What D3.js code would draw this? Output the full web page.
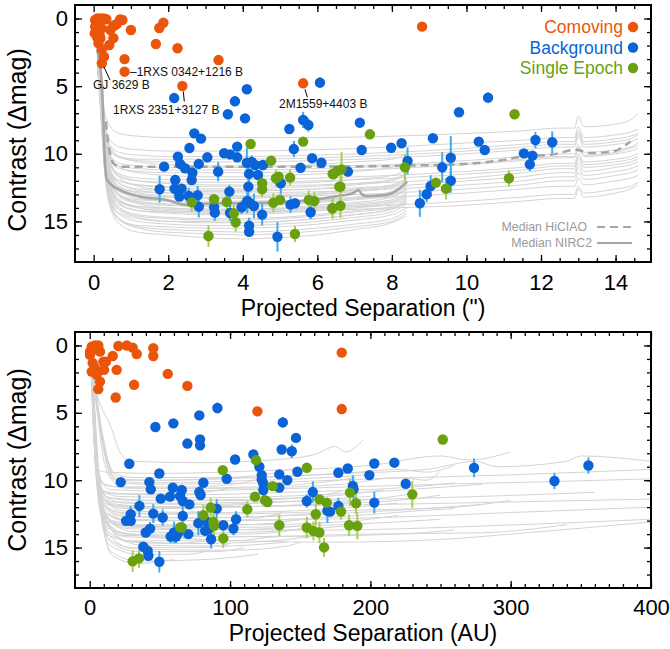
<!DOCTYPE html>
<html>
<head>
<meta charset="utf-8" />
<title>Contrast vs projected separation</title>
<script src="https://d3js.org/d3.v7.min.js"></script>
<style>
  body { margin: 0; background: #fff; }
  svg { display: block; font-family: Arial, "Liberation Sans", sans-serif; }
</style>
</head>
<body>
<svg id="chart" width="670" height="649"></svg>
<script>
// ---- top panel: separation in arcsec, contrast in mag ----
// [sep, dmag]
var topComoving = [[0.04,0.1],[0.10,0.0],[0.18,0.0],[0.27,0.0],[0.34,0.05],[0.07,0.36],[0.13,0.4],[0.04,0.6],
  [0.09,0.73],[0.22,0.73],[0.03,1.1],[0.09,1.17],[0.16,1.22],[0.10,1.42],[0.18,1.47],[0.13,1.84],[0.22,2.28],
  [0.28,2.82],[0.22,3.31],[0.53,0.55],[0.62,0.41],[0.71,0.06],[0.45,0.85],[0.58,0.48],[0.77,0.11],[0.53,1.45],
  [0.42,1.96],[1.0,0.85],[1.76,0.7],[1.87,0.31],[1.67,1.88],[2.25,2.2],[0.83,3.0],[0.83,3.93],[3.35,3.07],
  [2.38,4.99],[5.62,4.79],[8.81,0.6]];
// [sep, dmag, error]
var topBackground = [[2.16,5.88,0],[4.11,5.23,0],[3.79,6.12,0],[3.60,7.08,0],[4.06,7.38,0.3],[6.07,4.74,0.4],
  [5.62,7.5,0.6],[5.25,8.17,0],[5.76,7.87,0.5],[2.70,8.49,0],[2.88,8.88,0],[2.57,9.57,0],[3.85,9.47,0],
  [3.50,9.96,0],[3.66,10.04,0],[3.85,10.26,0],[3.05,10.26,0],[2.26,10.21,0],[2.32,10.75,0],[1.89,10.95,0],
  [2.45,11.07,0],[2.82,10.75,0],[3.34,11.32,0.7],[2.65,11.4,0],[2.63,11.94,0],[2.19,11.94,0.4],[1.77,12.62,1.0],
  [2.17,12.58,0.5],[2.36,12.58,0],[2.30,13.17,0],[2.55,13.12,0.6],[2.79,13.07,0.7],[2.82,13.91,0.8],
  [3.23,13.95,0.6],[3.25,14.35,0.6],[4.11,10.66,1.1],[4.24,10.61,0.5],[4.33,10.83,0],[4.54,10.83,0],
  [4.17,11.49,0.7],[4.41,11.57,0],[4.15,12.43,0.9],[4.12,13.49,0.9],[4.19,13.66,0],[3.97,13.95,0.5],
  [4.30,13.86,0.9],[4.52,14.5,0.8],[4.17,15.31,0.6],[4.17,15.76,0],[4.93,16.13,1.1],[5.02,12.18,0.8],
  [5.28,13.76,0.6],[5.40,13.66,0],[5.37,9.65,0.6],[5.55,11.03,0],[5.86,10.33,0],[6.11,10.66,0],
  [5.82,14.32,0.5],[7.14,7.7,0],[7.19,9.72,0],[7.98,9.55,0],[8.26,9.22,0],[8.42,10.53,1.0],[6.82,11.32,0],
  [9.10,8.85,0],[9.80,6.93,0],[10.58,5.85,0.4],[10.33,9.1,0],[10.49,9.72,0],[8.75,13.66,1.0],[8.93,12.99,0.6],
  [9.04,12.38,0.8],[9.35,11.0,1.1],[9.58,10.29,1.6],[9.58,11.99,0.9],[11.54,9.97,0],[11.77,10.14,0],
  [11.70,10.78,0.5],[11.85,8.98,0.6],[12.30,9.15,0.8],[3.64,12.8,0.5],[3.66,14.38,0.6]];
var topSingle = [[4.21,9.28,0],[4.76,10.51,0],[4.89,11.81,0.6],[4.96,11.69,0],[5.27,11.76,0.6],[4.52,12.18,0],
  [4.52,12.62,0.6],[2.63,13.59,0.7],[3.23,13.36,0],[3.57,13.56,0.6],[3.76,14.4,0.6],[3.81,15.06,0.7],
  [3.08,16.08,0.8],[4.82,13.62,0.7],[5.0,13.41,0],[5.40,15.93,0.6],[5.62,9.1,0],[5.77,13.41,0.7],
  [5.92,13.49,0.7],[6.41,11.49,0],[6.40,14.03,0.6],[6.59,12.43,0],[7.41,8.56,0],[6.43,11.52,0],[6.53,11.27,0],
  [6.65,11.15,1.3],[6.62,12.43,0.8],[6.41,14.03,0.8],[6.62,13.84,0.9],[8.35,11.0,1.0],[9.18,12.13,0],
  [9.45,12.58,0.8],[11.14,11.81,0.6],[11.29,7.08,0]];

// contrast curves, top panel (dmag read at the separations below)
var nirc2Sep = [0.1, 0.2, 0.3, 0.45, 0.7, 1.2, 2, 3, 4, 5, 6, 7, 8, 8.4];
var nirc2Curves = [
  [2.0, 5.0, 8.0, 9.5, 10.2, 10.6, 10.8, 10.9, 10.9, 10.9, 10.8, 10.6, 10.4, 10.0],
  [1.5, 4.5, 8.5, 10.2, 11.0, 11.4, 11.6, 11.7, 11.7, 11.6, 11.5, 11.3, 11.0, 10.6],
  [2.5, 5.5, 9.0, 10.8, 11.6, 12.0, 12.2, 12.3, 12.3, 12.2, 12.1, 11.9, 11.6, 11.2],
  [1.0, 4.0, 8.0, 10.5, 11.8, 12.4, 12.7, 12.8, 12.8, 12.7, 12.6, 12.3, 12.0, 11.5],
  [3.0, 6.0, 9.5, 11.5, 12.5, 13.0, 13.2, 13.3, 13.3, 13.2, 13.0, 12.8, 12.5, 12.0],
  [2.0, 5.5, 9.2, 11.6, 12.8, 13.3, 13.5, 13.6, 13.6, 13.5, 13.4, 13.2, 12.8, 12.3],
  [1.5, 5.0, 9.0, 11.8, 13.0, 13.6, 13.8, 13.9, 13.9, 13.8, 13.6, 13.4, 13.1, 12.6],
  [2.5, 6.0, 10.0, 12.3, 13.4, 13.9, 14.1, 14.2, 14.2, 14.1, 13.9, 13.7, 13.4, 12.9],
  [3.0, 6.5, 10.3, 12.6, 13.7, 14.2, 14.4, 14.5, 14.5, 14.4, 14.2, 14.0, 13.7, 13.2],
  [2.0, 6.0, 10.5, 13.0, 14.1, 14.6, 14.8, 14.9, 14.9, 14.8, 14.6, 14.3, 14.0, 13.4],
  [3.5, 7.0, 11.0, 13.4, 14.5, 15.0, 15.2, 15.3, 15.3, 15.2, 15.0, 14.7, 14.3, 13.7],
  [2.5, 6.5, 10.8, 13.5, 14.8, 15.4, 15.6, 15.7, 15.8, 15.7, 15.5, 15.2, 14.8, 14.2],
  [3.0, 7.5, 11.5, 14.0, 15.2, 15.8, 16.0, 16.2, 16.3, 16.2, 16.0, 15.6, 15.1, 14.6],
  [1.8, 5.2, 8.8, 11.2, 12.2, 12.7, 12.9, 13.0, 13.1, 13.0, 12.9, 12.6, 12.3, 11.8],
  [2.2, 5.8, 9.6, 12.0, 13.2, 13.7, 14.0, 14.1, 14.1, 14.0, 13.8, 13.6, 13.2, 12.7],
  [2.8, 6.8, 10.6, 12.9, 14.0, 14.5, 14.7, 14.8, 14.8, 14.7, 14.5, 14.2, 13.9, 13.3],
  [2.2, 5.6, 9.4, 11.3, 12.0, 12.3, 12.5, 12.6, 12.6, 12.5, 12.4, 12.2, 11.9, 11.4],
  [1.6, 5.0, 9.1, 11.4, 12.4, 12.9, 13.1, 13.2, 13.2, 13.1, 13.0, 12.7, 12.4, 11.9],
  [2.7, 6.2, 9.8, 12.1, 13.1, 13.6, 13.8, 13.8, 13.8, 13.7, 13.5, 13.3, 12.9, 12.4],
  [2.3, 6.3, 10.2, 12.5, 13.6, 14.0, 14.3, 14.4, 14.3, 14.2, 14.0, 13.8, 13.5, 13.0],
  [3.3, 6.9, 10.7, 13.1, 14.2, 14.7, 15.0, 15.1, 15.1, 15.0, 14.8, 14.5, 14.1, 13.5],
  [2.9, 7.2, 11.2, 13.7, 14.9, 15.5, 15.8, 15.9, 16.0, 15.9, 15.7, 15.4, 15.0, 14.4],
  [1.9, 5.4, 9.3, 11.9, 13.1, 13.5, 13.7, 13.7, 13.8, 13.7, 13.5, 13.3, 13.0, 12.5],
  [2.6, 6.1, 10.1, 12.4, 13.5, 14.0, 14.2, 14.3, 14.4, 14.3, 14.1, 13.9, 13.6, 13.1],
  [3.1, 7.3, 11.3, 13.8, 14.9, 15.3, 15.4, 15.5, 15.5, 15.4, 15.2, 14.9, 14.5, 14.0],
  [2.4, 6.7, 10.9, 13.3, 14.4, 14.8, 15.0, 15.0, 15.1, 15.0, 14.8, 14.5, 14.1, 13.6]
];
var hiciaoSep = [0.1, 0.2, 0.3, 0.45, 0.7, 1.2, 2, 3, 4, 6, 8, 10, 11.5, 12.5, 12.9, 13.0, 13.15, 14, 14.4, 14.6];
var hiciaoCurves = [
  [1.5,4.5,7.0,8.0,8.5,8.7,8.8,8.8,8.8,8.8,8.7,8.5,8.3,8.1,8.1,7.2,8.0,7.8,7.5,7.0],
  [2.0,5.0,7.8,9.0,9.5,9.7,9.8,9.8,9.8,9.7,9.5,9.2,9.0,8.8,8.8,8.0,8.8,8.6,8.4,8.2],
  [1.2,4.8,8.0,9.4,9.9,10.1,10.2,10.2,10.2,10.1,9.9,9.6,9.3,9.1,9.1,8.3,9.1,8.9,8.7,8.5],
  [2.5,5.5,8.5,9.8,10.3,10.5,10.6,10.6,10.6,10.5,10.3,10.0,9.7,9.5,9.5,8.7,9.5,9.3,9.1,8.9],
  [2.0,5.2,8.6,10.1,10.7,10.9,11.0,11.0,11.0,10.9,10.8,10.5,10.2,10.0,10.0,9.3,9.9,9.7,9.5,9.2],
  [3.0,6.0,9.0,10.5,11.1,11.3,11.4,11.4,11.4,11.3,11.1,10.8,10.5,10.3,10.3,9.6,10.2,10.0,9.8,9.6],
  [2.2,5.8,9.2,10.8,11.5,11.8,11.9,11.9,11.9,11.8,11.6,11.3,11.0,10.7,10.7,10.0,10.6,10.4,10.2,10.0],
  [1.8,5.5,9.4,11.2,12.0,12.3,12.4,12.4,12.4,12.3,12.1,11.8,11.4,11.1,11.1,10.4,11.0,10.8,10.6,10.4],
  [2.6,6.4,9.8,11.6,12.5,12.8,12.9,12.9,12.9,12.8,12.6,12.3,12.0,11.7,11.7,11.0,11.6,11.3,11.1,10.9],
  [3.2,7.0,10.3,12.2,13.1,13.4,13.5,13.5,13.5,13.4,13.2,12.9,12.6,12.4,12.4,11.8,12.3,12.0,11.8,11.6],
  [2.4,6.6,10.4,12.5,13.5,13.9,14.0,14.1,14.1,14.0,13.8,13.5,13.2,13.0,13.0,12.4,12.9,12.6,12.4,12.1],
  [1.7,5.1,8.3,9.7,10.2,10.4,10.4,10.4,10.4,10.3,10.1,9.8,9.5,9.3,9.3,8.5,9.3,9.1,8.9,8.6],
  [2.3,5.6,8.8,10.3,10.9,11.1,11.2,11.2,11.2,11.1,10.9,10.7,10.4,10.2,10.2,9.5,10.1,9.9,9.6,9.4],
  [2.8,6.2,9.3,10.9,11.7,12.0,12.1,12.1,12.1,12.0,11.8,11.5,11.2,10.9,10.9,10.2,10.8,10.6,10.4,10.2],
  [2.1,6.0,9.6,11.4,12.2,12.6,12.7,12.7,12.7,12.6,12.4,12.0,11.7,11.4,11.4,10.7,11.3,11.0,10.8,10.6],
  [3.0,6.8,10.1,12.0,12.8,13.1,13.2,13.2,13.2,13.1,12.9,12.6,12.3,12.0,12.0,11.4,11.9,11.6,11.4,11.2],
  [2.5,6.9,10.6,12.8,13.8,14.2,14.3,14.3,14.3,14.2,14.0,13.8,13.5,13.3,13.3,12.6,13.2,12.9,12.6,12.3]
];
var medianHiciao = [[0.33,7.6],[0.36,8.5],[0.44,9.97],[0.53,10.7],[0.71,10.95],[2,10.95],[4,10.95],[6,10.95],
  [8,10.9],[8.75,10.85],[9.6,10.8],[10.2,10.7],[11.0,10.45],[11.5,10.2],[12.3,10.05],[12.95,9.7],[13.3,9.95],
  [13.9,9.85],[14.4,9.1]];
var medianNirc2 = [[0.09,2.3],[0.22,4.8],[0.31,10.95],[0.36,11.94],[0.71,12.68],[1.25,13.17],[1.96,13.41],
  [2.5,13.78],[3.3,13.66],[4.19,13.64],[5.09,13.59],[5.98,13.36],[6.6,13.1],[6.96,12.92],[7.1,12.68],
  [7.2,13.0],[7.32,13.12],[7.86,13.04],[8.21,12.55],[8.41,12.06]];

// ---- bottom panel: separation in AU ----
var botComoving = [[0.2,0.46],[1.4,0.09],[3.8,0],[0.2,0.7],[6.1,0.2],[7.3,0.46],[6.1,0],[2.1,1.3],[3.8,1.69],
  [1.4,1.94],[5.0,2.18],[7.3,2.68],[6.1,3.24],[9.7,1.2],[11.6,1.2],[10.2,1.81],[16.4,0.78],[19.2,1.81],
  [20.4,0.04],[18.5,3.86],[26.4,0],[30.6,0.16],[33.5,0.63],[31.6,2.92],[45.3,0.2],[45.3,0.78],[55.6,2.11],
  [69.6,3.0],[119.5,4.89],[179.6,0.53],[179.6,4.72],[2.5,0.3],[4.5,0.1]];
var botBackground = [[46.8,6.05,0],[59.6,5.78,0],[78.1,5.19,0],[91,4.64,0.4],[69.6,7.28,0.3],[78.6,6.98,0],
  [78.6,7.41,0],[28.2,8.78,0],[22.1,10.14,0],[49.6,9.5,0],[42.5,10.14,0],[43.5,10.68,0],[50.6,11.37,0],
  [59.2,10.56,0],[57.2,11.22,0],[65.6,10.73,0],[64.4,11.17,0],[66.3,11.54,0],[71,11.79,0],[78.1,10.88,0],
  [81,10.19,0],[79,11.1,0],[35.4,11.91,0.8],[29.2,12.53,0.6],[25.9,13.02,0],[29.2,13.02,0],[45.3,12.48,0.7],
  [52,12.77,0.6],[66.3,12.65,0.8],[90.5,12.11,0.7],[39.9,13.88,0],[43,13.59,0.5],[38.2,14.94,0],[41.3,15.24,0],
  [41.8,15.61,0],[49.6,16.05,0.8],[57.7,14.18,0.5],[60.1,13.88,0.8],[61.5,14.18,0.5],[63.2,13.88,0.6],
  [70.3,14.0,0],[77.4,13.19,0.9],[82.7,13.02,0.6],[82.2,13.76,0],[84.5,13.64,0.6],[86.5,14.38,0.7],
  [95.2,13.34,0],[102.4,13.59,0.5],[104.3,12.9,0.6],[97.6,9.89,0],[103.6,8.46,0],[116.6,8.09,0],[120.9,9.0,0],
  [122.6,9.62,0],[122.6,9.95,0.5],[123.7,10.24,0],[123.7,10.73,0.5],[136.8,7.72,0],[137.6,5.71,0.4],
  [144,7.85,0.5],[147,6.86,0],[135.1,9.57,0],[135.1,10.55,0],[140.8,9.99,0],[148,9.37,0],[154.7,11.54,0.5],
  [159,10.88,0.8],[169.4,12.28,0.9],[177.2,9.45,0],[177.2,11.91,0.6],[183.9,9.13,0],[187.5,10.43,0.8],
  [188,10.68,0.7],[199.3,9.62,0],[202.8,8.76,0],[202.8,11.66,0.8],[217.1,8.7,0],[225.2,10.26,0],
  [273.9,9.08,0.7],[331.2,10.06,0.6],[355.4,8.91,0.6],[171.3,12.33,0]];
var botSingle = [[94.8,9.25,0],[118.5,8.51,0],[117.8,11.22,0],[112.3,12.16,0.6],[125,11.49,0],[126.6,11.62,0],
  [130.4,10.44,0],[135.1,13.34,0.8],[86.2,12.03,0.7],[81,12.6,0.8],[88.1,13.1,0.8],[88.6,13.39,0.8],
  [95.2,14.32,0.7],[65.6,13.51,0.6],[30.6,16.02,0.8],[35.1,15.8,0.7],[154.7,9.08,0],[154.7,13.51,0.8],
  [159.4,13.76,0.7],[161.1,12.53,0.8],[163.7,13.88,0.8],[167,14.99,0.7],[163.7,11.42,0],[168.9,11.66,0],
  [179.1,12.33,0.6],[185.5,10.92,1.0],[189.8,11.71,0.8],[184.8,13.34,0.8],[190.7,13.39,1.0],[251.6,6.98,0],
  [229.9,11.05,1.0],[64.4,13.5,0]];
// contrast curves in AU, [au, dmag]
var auCurves = [
  [[3,3],[8,4.5],[15,6],[22,8],[30,8.6],[80,8.7],[130,8.5],[160,8.1],[175,7.5],[182,7.9],[195,7.0]],
  [[2,2.5],[6,5],[12,8.2],[18,9.5],[30,9.8],[100,9.8],[180,9.5],[240,9.2],[275,8.6],[290,9.0],[340,8.6],[350,8.2],[400,8.6]],
  [[2,2],[7,6],[14,9.3],[22,10.2],[40,10.3],[120,10.2],[200,9.9],[300,9.6],[400,9.2]],
  [[2,3],[4,7],[8,10],[15,10.7],[50,10.8],[150,10.6],[250,10.3],[330,10.1],[400,9.9]],
  [[2,2.5],[5,8],[10,11],[20,11.8],[60,12.0],[150,11.9],[260,11.7],[400,11.4]],
  [[1.5,2.5],[4,8],[8,11.5],[16,13.0],[60,13.6],[170,13.7],[280,13.4],[400,12.9]],
  [[2,3],[5,9],[10,12.5],[20,13.8],[60,14.3],[171,14.6],[250,14.4],[300,14.0],[400,13.1]],
  [[1,2],[3,6],[6,9.2],[12,9.4],[50,9.5],[120,9.3],[200,8.9],[250,8.2],[270,8.5],[300,7.9]],
  [[2,3],[5,8.5],[10,10.3],[30,10.6],[100,10.6],[180,10.3],[220,9.8],[240,10.0],[250,9.3]],
  [[1.5,2.5],[4,8],[8,10.6],[20,11.2],[80,11.3],[180,11.0],[240,10.6],[280,10.3]],
  [[2,3],[5,9],[10,11.5],[25,12.0],[90,12.0],[170,11.7],[210,11.3],[230,11.0]],
  [[1.5,2],[4,8.5],[9,11.8],[25,12.5],[100,12.5],[200,12.2],[260,12.0],[300,11.5]],
  [[2,3],[5,9.5],[10,12.3],[25,13.0],[90,13.0],[180,12.7],[230,12.3],[260,12.1]],
  [[1.5,2.5],[4,9],[9,12.8],[25,14.1],[100,14.2],[200,14.0],[280,13.9],[340,13.3]],
  [[2,3],[5,9],[11,12.8],[25,14.5],[80,14.7],[130,14.5],[165,14.1]],
  [[3,2.5],[9,6.5],[16,9.4],[25,10.0],[50,10.0],[100,9.8],[130,9.5],[150,9.0]],
  [[2,3],[4,7.5],[8,10.2],[20,10.5],[70,10.5],[110,10.2],[120,9.8]],
  [[2,2.5],[5,8.5],[10,10.8],[25,11.0],[70,11.0],[100,10.6]],
  [[2,3],[5,8.8],[11,11.2],[30,11.5],[110,11.5],[160,11.2],[180,10.8]],
  [[1.5,2.5],[4,8.5],[9,11.6],[25,12.1],[70,12.1],[90,11.8]],
  [[2,3],[5,9.2],[10,12.4],[30,13.0],[100,13.0],[130,12.6],[140,12.3]],
  [[2,2.5],[5,9.5],[12,13.0],[30,13.5],[70,13.4]],
  [[2,3],[5,9.8],[12,13.5],[30,14.0],[110,14.0],[150,13.6],[160,13.2]],
  [[2,3.5],[6,10.5],[12,14.0],[30,14.5],[100,14.5],[130,14.2]],
  [[2,3],[6,10.8],[13,14.3],[30,15.0],[80,15.0],[100,14.7]],
  [[2.5,3.5],[6,11],[14,14.8],[35,15.5],[70,15.5],[85,15.2]],
  [[2.5,3.5],[7,11.5],[15,15.3],[35,16.0],[80,15.9],[120,15.5]],
  [[3,4],[8,12],[16,15.6],[35,16.2],[50,16.0],[60,15.9]],
  [[1.5,2.5],[4,8.2],[9,11],[25,11.7],[80,11.8],[140,11.6],[200,11.2]],
  [[2,3],[5,9.3],[10,12.6],[25,13.3],[120,13.3],[190,13.0],[220,12.6]],
  [[2,1.5],[6,5],[12,8.5],[20,10.0],[40,10.2],[90,10.1],[150,9.9],[200,9.6]],
  [[1.5,2],[3.5,7],[7,10.5],[14,11.3],[50,11.5],[120,11.4],[180,11.1],[210,10.7]],
  [[2,2.5],[4.5,8],[9,11.5],[20,12.6],[70,12.8],[140,12.6],[190,12.2]],
  [[2.5,3],[6,9.5],[12,12.8],[30,13.8],[90,13.9],[160,13.6],[200,13.2]],
  [[3,3.5],[7,10],[14,13.5],[35,14.8],[90,14.9],[140,14.6]],
  [[1,2],[3,7],[6,10.2],[12,11.0],[60,11.1],[140,10.9],[230,10.5],[260,10.2]],
  [[2,2.8],[5,8.8],[10,11.9],[25,12.7],[80,12.8],[170,12.5],[240,12.1],[280,11.8]],
  [[1.5,2.2],[4,8.4],[8,11.2],[18,11.9],[60,12.0],[110,11.8],[130,11.5]],
  [[2,3],[5,9.6],[11,12.9],[28,13.6],[90,13.7],[150,13.4],[170,13.1]],
  [[2.5,3.2],[6,10.2],[13,13.8],[30,14.6],[60,14.7],[90,14.4]],
  [[3,4],[7,11],[15,14.6],[35,15.3],[90,15.3],[110,15.0]],
  [[3,2],[8,6],[14,9.5],[22,10.5],[50,10.6],[120,10.5],[170,10.1],[190,9.8]],
  [[2,2.6],[5,8.7],[10,11.4],[25,12.3],[90,12.4],[160,12.2],[220,11.7]],
  [[1.5,2.4],[4,8.8],[9,12.3],[22,13.3],[70,13.4],[130,13.2],[150,12.9]],
  [[3,4],[7,10.8],[14,14.1],[32,15.1],[100,15.2],[140,14.9],[150,14.6]],
  [[2,3],[5,9],[10,11.8],[24,12.4],[60,12.5],[75,12.3]],
  [[2.5,3.5],[6,10],[12,13.3],[26,14.2],[60,14.3],[80,14.0]],
  [[1,2],[3.5,7.5],[7,10.8],[15,11.6],[60,11.7],[170,11.5],[280,11.2],[360,10.9]],
  [[2,2.8],[5,9],[10,12.1],[25,12.9],[100,13.0],[200,12.8],[300,12.4],[400,12.0]],
  [[1.5,2.5],[4,8.4],[9,11.2],[20,11.9],[80,12.0],[160,11.8],[230,11.4],[250,11.1]],
  [[2,3],[5.5,9.5],[11,12.6],[25,13.4],[100,13.5],[180,13.3],[250,12.9]],
  [[2,2],[6,5.5],[10,8.5],[16,9.9],[50,10.0],[120,9.8],[180,9.5],[220,9.2],[240,9.4],[260,8.9]],
  [[2.5,3],[6,9.8],[12,13.1],[30,14.1],[120,14.2],[220,14.0],[260,13.7]]
];

var topXTicks = [0, 2, 4, 6, 8, 10, 12, 14];
var botXTicks = [0, 100, 200, 300, 400];
var yTicks = [0, 5, 10, 15];
var legendLabels = ["Comoving", "Background", "Single Epoch"];

var colors = { comoving: "#eb550a", background: "#0a64d7", single: "#69a00f",
  bgErr: "#3caaf0", seErr: "#aacd50", curve: "#d4d4d4", median: "#a6a6a6" };

var svg = d3.select("#chart");
svg.append("rect").attr("width", 670).attr("height", 649).attr("fill", "#fff");

var L = 75, R = 651;

function drawPanel(p) {
  var x = d3.scaleLinear().domain(p.xDomain).range([L, R]);
  var y = d3.scaleLinear().domain([-1, 18]).range([p.top, p.bottom]);
  var g = svg.append("g");

  g.append("clipPath").attr("id", p.id + "clip")
    .append("rect").attr("x", L).attr("y", p.top).attr("width", R - L).attr("height", p.bottom - p.top);
  var plot = g.append("g").attr("clip-path", "url(#" + p.id + "clip)");

  var line = d3.line().x(function (d) { return x(d[0]); }).y(function (d) { return y(d[1]); })
    .curve(d3.curveMonotoneX);

  plot.selectAll(".curve").data(p.curves).enter().append("path")
    .attr("d", line).attr("fill", "none").attr("stroke", colors.curve).attr("stroke-width", 1);

  if (p.medians) {
    plot.append("path").attr("d", line(medianHiciao)).attr("fill", "none")
      .attr("stroke", colors.median).attr("stroke-width", 2.5).attr("stroke-dasharray", "8,5");
    plot.append("path").attr("d", line(medianNirc2)).attr("fill", "none")
      .attr("stroke", colors.median).attr("stroke-width", 2.5);
  }

  function errs(data, col) {
    plot.selectAll(null).data(data.filter(function (d) { return d[2] > 0; })).enter().append("line")
      .attr("x1", function (d) { return x(d[0]); }).attr("x2", function (d) { return x(d[0]); })
      .attr("y1", function (d) { return y(d[1] - d[2]); }).attr("y2", function (d) { return y(d[1] + d[2]); })
      .attr("stroke", col).attr("stroke-width", 2);
  }
  function dots(data, col) {
    plot.selectAll(null).data(data).enter().append("circle")
      .attr("cx", function (d) { return x(d[0]); }).attr("cy", function (d) { return y(d[1]); })
      .attr("r", 5.2).attr("fill", col);
  }
  errs(p.background, colors.bgErr);
  errs(p.single, colors.seErr);
  dots(p.background, colors.background);
  dots(p.single, colors.single);
  dots(p.comoving, colors.comoving);

  // axes, ticks pointing inwards on all four sides
  function clean(sel) { sel.select(".domain").remove(); sel.selectAll("line").attr("stroke", "#000").attr("stroke-width", 1.3); }
  var xb = g.append("g").attr("transform", "translate(0," + p.bottom + ")");
  xb.call(d3.axisBottom(x).tickValues(p.xTicks).tickSize(-7).tickPadding(p.xPad).tickFormat(d3.format("d"))).call(clean);
  xb.selectAll("text").attr("font-size", 22).attr("fill", "#000").style("font-family", "Arial, 'Liberation Sans', sans-serif");
  g.append("g").attr("transform", "translate(0," + p.bottom + ")")
    .call(d3.axisBottom(x).tickValues(p.xMinor).tickSize(-4).tickFormat("")).call(clean);
  g.append("g").attr("transform", "translate(0," + p.top + ")")
    .call(d3.axisTop(x).tickValues(p.xTicks).tickSize(-7).tickFormat("")).call(clean);
  g.append("g").attr("transform", "translate(0," + p.top + ")")
    .call(d3.axisTop(x).tickValues(p.xMinor).tickSize(-4).tickFormat("")).call(clean);

  var yl = g.append("g").attr("transform", "translate(" + L + ",0)");
  yl.call(d3.axisLeft(y).tickValues(yTicks).tickSize(-7).tickPadding(7)).call(clean);
  yl.selectAll("text").attr("font-size", 22).attr("fill", "#000").style("font-family", "Arial, 'Liberation Sans', sans-serif");
  var yMinor = d3.range(0, 18, 1);
  g.append("g").attr("transform", "translate(" + L + ",0)")
    .call(d3.axisLeft(y).tickValues(yMinor).tickSize(-4).tickFormat("")).call(clean);
  g.append("g").attr("transform", "translate(" + R + ",0)")
    .call(d3.axisRight(y).tickValues(yTicks).tickSize(-7).tickFormat("")).call(clean);
  g.append("g").attr("transform", "translate(" + R + ",0)")
    .call(d3.axisRight(y).tickValues(yMinor).tickSize(-4).tickFormat("")).call(clean);

  g.append("rect").attr("x", L).attr("y", p.top).attr("width", R - L).attr("height", p.bottom - p.top)
    .attr("fill", "none").attr("stroke", "#000").attr("stroke-width", 2);

  g.append("text").attr("transform", "translate(26," + p.yTitleY + ") rotate(-90)")
    .attr("text-anchor", "middle").attr("font-size", 25).text("Contrast (\u0394mag)");
  g.append("text").attr("x", 363).attr("y", p.xTitleY).attr("text-anchor", "middle")
    .attr("font-size", 23).text(p.xTitle);

  return { x: x, y: y, g: g };
}

var topP = drawPanel({
  id: "top", xDomain: [-0.5, 14.95], top: 5, bottom: 262,
  xTicks: topXTicks, xMinor: d3.range(0.5, 15, 0.5), xPad: 12,
  curves: nirc2Curves.map(function (c) { return c.map(function (v, i) { return [nirc2Sep[i], v]; }); })
    .concat(hiciaoCurves.map(function (c) { return c.map(function (v, i) { return [hiciaoSep[i], v]; }); })),
  medians: true,
  comoving: topComoving, background: topBackground, single: topSingle,
  yTitleY: 140, xTitleY: 316, xTitle: "Projected Separation (\")"
});

var botP = drawPanel({
  id: "bot", xDomain: [-10.5, 400], top: 332, bottom: 588,
  xTicks: botXTicks, xMinor: d3.range(10, 400, 10), xPad: 11,
  curves: auCurves, medians: false,
  comoving: botComoving, background: botBackground, single: botSingle,
  yTitleY: 460, xTitleY: 641, xTitle: "Projected Separation (AU)"
});

// legend (top panel)
var legCols = [colors.comoving, colors.background, colors.single];
legendLabels.forEach(function (t, i) {
  var ly = 27 + i * 20.5;
  svg.append("text").attr("x", 623).attr("y", ly).attr("dy", "0.35em").attr("text-anchor", "end")
    .attr("font-size", 17.5).attr("fill", legCols[i]).text(t);
  svg.append("circle").attr("cx", 633).attr("cy", ly).attr("r", 5.2).attr("fill", legCols[i]);
});
var medLeg = [["Median HiCIAO", 587, 227, "8,5"], ["Median NIRC2", 592, 243, null]];
medLeg.forEach(function (m) {
  svg.append("text").attr("x", m[1]).attr("y", m[2]).attr("dy", "0.35em").attr("text-anchor", "end")
    .attr("font-size", 12.3).attr("fill", "#9a9a9a").text(m[0]);
  svg.append("line").attr("x1", 597).attr("x2", 632).attr("y1", m[2]).attr("y2", m[2])
    .attr("stroke", colors.median).attr("stroke-width", 2).attr("stroke-dasharray", m[3]);
});

// labelled companions (top panel)
var notes = [
  { text: "GJ 3629 B", line: [[104, 67], [110, 80]], tx: 93, ty: 89 },
  { text: "\u20131RXS 0342+1216 B", line: null, tx: 130, ty: 76 },
  { text: "1RXS 2351+3127 B", line: [[183.3, 91.5], [184.3, 101.5]], tx: 113, ty: 113.5 },
  { text: "2M1559+4403 B", line: [[305, 89.3], [307.3, 97.3]], tx: 279, ty: 107.5 }
];
notes.forEach(function (n) {
  if (n.line) {
    svg.append("line").attr("x1", n.line[0][0]).attr("y1", n.line[0][1])
      .attr("x2", n.line[1][0]).attr("y2", n.line[1][1]).attr("stroke", "#000").attr("stroke-width", 1);
  }
  svg.append("text").attr("x", n.tx).attr("y", n.ty).attr("font-size", 12).attr("fill", "#111").text(n.text);
});
</script>
</body>
</html>
